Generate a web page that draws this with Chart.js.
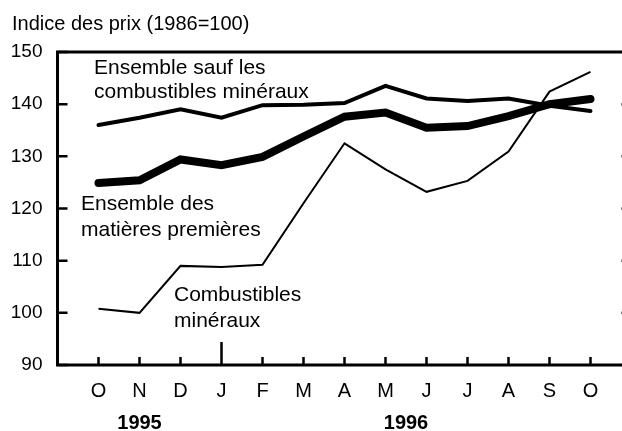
<!DOCTYPE html>
<html>
<head>
<meta charset="utf-8">
<script src="https://cdn.jsdelivr.net/npm/chart.js@4"></script>
<style>
html, body { margin: 0; padding: 0; background: #fff; overflow: hidden; }
#wrap { width: 622px; height: 431px; overflow: hidden; }
canvas { display: block; }
</style>
</head>
<body>
<div id="wrap"><canvas id="chart" width="650" height="431"></canvas></div>
<script>
// months Oct 1995 - Oct 1996
const months = ['O', 'N', 'D', 'J', 'F', 'M', 'A', 'M', 'J', 'J', 'A', 'S', 'O'];
const sansMineraux = [136.0, 137.4, 139.0, 137.4, 139.8, 139.9, 140.2, 143.5, 141.1, 140.6, 141.1, 139.7, 138.7];
const matieresPremieres = [124.9, 125.4, 129.4, 128.3, 129.9, 133.8, 137.6, 138.4, 135.5, 135.8, 137.7, 140.0, 141.0];
const combustibles = [100.8, 100.0, 109.0, 108.8, 109.2, 121.0, 132.5, 127.5, 123.2, 125.3, 130.9, 142.4, 146.2];
const yTicks = [90, 100, 110, 120, 130, 140, 150];
const years = ['1995', '1996'];

const FONT = 'Liberation Sans, Arial, sans-serif';

function pts(vals) {
    return vals.map((v, i) => ({ x: i, y: v }));
}

// frame, inward ticks and the text labels
const frame = {
    id: 'frame',
    afterDraw(chart) {
        const ctx = chart.ctx;
        const a = chart.chartArea;
        const x = chart.scales.x;
        const y = chart.scales.y;
        ctx.save();
        ctx.strokeStyle = '#000';
        ctx.lineWidth = 3;
        ctx.strokeRect(a.left, a.top, a.right - a.left, a.bottom - a.top);

        ctx.lineWidth = 2.5;
        ctx.beginPath();
        yTicks.forEach(v => {
            const py = y.getPixelForValue(v);
            ctx.moveTo(a.left, py); ctx.lineTo(a.left + 10, py);
            ctx.moveTo(a.right, py); ctx.lineTo(a.right - 10, py);
        });
        months.forEach((m, i) => {
            const px = x.getPixelForValue(i);
            ctx.moveTo(px, a.bottom);
            ctx.lineTo(px, a.bottom - (i === 3 ? 23 : 8));
        });
        ctx.stroke();

        ctx.fillStyle = '#000';
        ctx.textAlign = 'left';
        ctx.textBaseline = 'alphabetic';
        ctx.font = '20px ' + FONT;
        ctx.fillText('Indice des prix (1986=100)', 12, 30);

        ctx.font = '21px ' + FONT;
        ctx.fillText('Ensemble sauf les', 94, 74);
        ctx.fillText('combustibles minéraux', 94, 98);
        ctx.fillText('Ensemble des', 81, 210);
        ctx.fillText('matières premières', 81, 236);
        ctx.fillText('Combustibles', 174, 301);
        ctx.fillText('minéraux', 174, 327);

        ctx.font = 'bold 20px ' + FONT;
        ctx.textAlign = 'center';
        ctx.fillText(years[0], x.getPixelForValue(1), 429);
        ctx.fillText(years[1], x.getPixelForValue(7.5), 429);
        ctx.restore();
    }
};

new Chart(document.getElementById('chart'), {
    type: 'line',
    data: {
        datasets: [
            {
                label: 'Ensemble sauf les combustibles minéraux',
                data: pts(sansMineraux),
                borderColor: '#000',
                borderWidth: 4,
                borderCapStyle: 'round'
            },
            {
                label: 'Ensemble des matières premières',
                data: pts(matieresPremieres),
                borderColor: '#000',
                borderWidth: 8,
                borderCapStyle: 'round'
            },
            {
                label: 'Combustibles minéraux',
                data: pts(combustibles),
                borderColor: '#000',
                borderWidth: 2
            }
        ]
    },
    options: {
        responsive: false,
        animation: false,
        events: [],
        elements: { point: { radius: 0 }, line: { tension: 0 } },
        layout: { padding: { top: 52, right: 18.5, bottom: 0, left: 0 } },
        plugins: { legend: { display: false }, tooltip: { enabled: false } },
        scales: {
            x: {
                type: 'linear',
                min: -1,
                max: 13,
                grid: { display: false, drawTicks: false },
                border: { display: false },
                afterFit: s => { s.height = 66; },
                ticks: {
                    stepSize: 1,
                    autoSkip: false,
                    maxRotation: 0,
                    padding: 14,
                    color: '#000',
                    font: { family: FONT, size: 20 },
                    callback: v => months[v] || ''
                }
            },
            y: {
                min: 90,
                max: 150,
                grid: { display: false, drawTicks: false },
                border: { display: false },
                afterFit: s => { s.width = 57.5; },
                ticks: {
                    stepSize: 10,
                    padding: 15,
                    color: '#000',
                    font: { family: FONT, size: 19 }
                }
            }
        }
    },
    plugins: [frame]
});
</script>
</body>
</html>
